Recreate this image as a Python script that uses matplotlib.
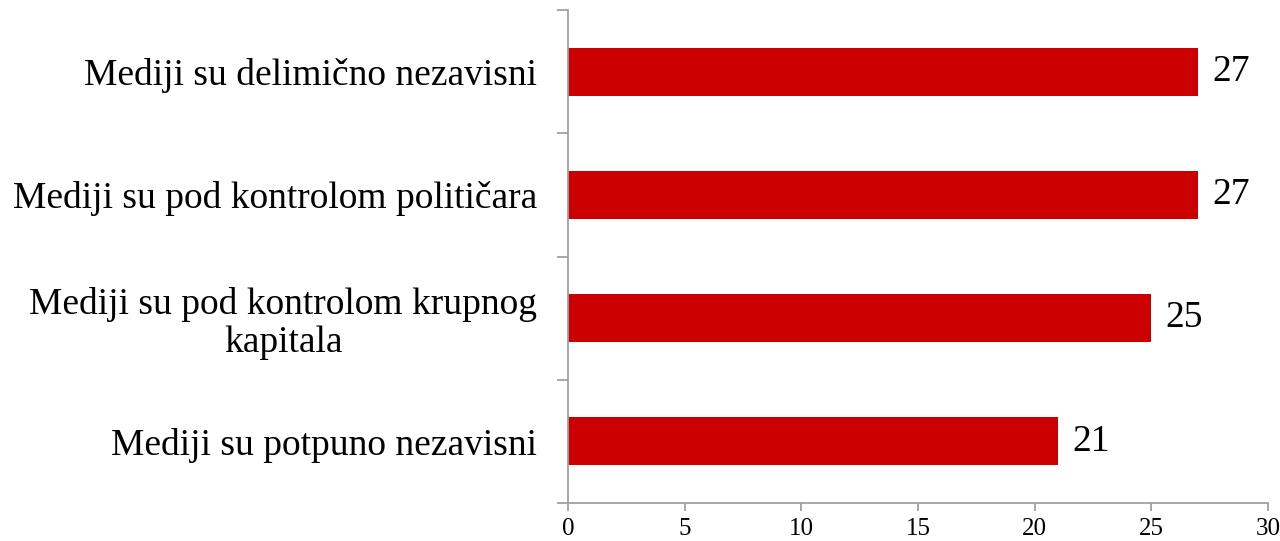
import matplotlib.pyplot as plt
import numpy as np

categories = [
    "Mediji su potpuno nezavisni",
    "Mediji su pod kontrolom krupnog\nkapitala",
    "Mediji su pod kontrolom političara",
    "Mediji su delimično nezavisni",
]
values = [21, 25, 27, 27]
xticks = [0, 5, 10, 15, 20, 25, 30]

bar_color = "#CC0000"
axis_color = "#A0A0A0"

plt.rcParams['font.family'] = ['Liberation Serif', 'DejaVu Serif']

fig = plt.figure(figsize=(12.8, 5.41), dpi=100)
ax = fig.add_axes([568 / 1280, 38 / 541, 700 / 1280, 493 / 541])

y = np.arange(len(categories))
bars = ax.barh(y, values, height=0.39, color=bar_color)

ax.set_xlim(0, 30)
ax.set_ylim(-0.5, len(categories) - 0.5)
ax.set_xticks(xticks)
ax.set_xticklabels([str(t) for t in xticks], fontsize=18)

ax.set_yticks(y)
ax.set_yticklabels(categories, fontsize=27)
for lab in ax.get_yticklabels():
    lab.set_multialignment('center')
    lab.set_linespacing(1.1)
ax.set_yticks(np.arange(-0.5, len(categories), 1.0), minor=True)
ax.tick_params(axis='y', which='major', length=0, pad=22)
ax.tick_params(axis='y', which='minor', length=8, width=1.3, color=axis_color)
ax.tick_params(axis='x', length=6, width=1.3, color=axis_color, pad=5)

for side in ['top', 'right']:
    ax.spines[side].set_visible(False)
for side in ['left', 'bottom']:
    ax.spines[side].set_color(axis_color)
    ax.spines[side].set_linewidth(1.3)

for b, v in zip(bars, values):
    ax.annotate(str(v), (b.get_width(), b.get_y() + b.get_height() / 2),
                xytext=(10, 0), textcoords='offset points',
                va='center', ha='left', fontsize=27)

fig.savefig("out.png", dpi=100)
